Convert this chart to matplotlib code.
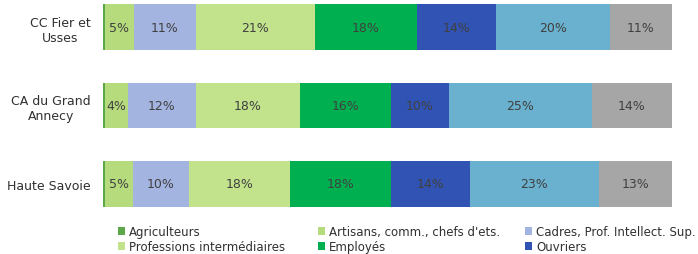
import matplotlib.pyplot as plt
import numpy as np

territoires = ["CC Fier et\nUsses", "CA du Grand\nAnnecy", "Haute Savoie"]
categories = ["Agriculteurs", "Artisans, comm., chefs d'ets.",
              "Cadres, Prof. Intellect. Sup.", "Professions intermédiaires",
              "Employés", "Ouvriers", "Retraités", "Autres"]
couleurs = ["#5aa84a", "#b5db7c", "#a3b4e0", "#c2e38c",
            "#00b050", "#3153b3", "#6ab1cf", "#a6a6a6"]

# parts en % (une liste par catégorie, dans l'ordre des territoires)
agriculteurs = [0.4, 0.3, 0.3]
artisans = [5, 4, 5]
cadres = [11, 12, 10]
prof_inter = [21, 18, 18]
employes = [18, 16, 18]
ouvriers = [14, 10, 14]
retraites = [20, 25, 23]
autres = [11, 14, 13]

data = np.array([agriculteurs, artisans, cadres, prof_inter,
                 employes, ouvriers, retraites, autres], dtype=float)
data = data / data.sum(axis=0) * 100  # barres ramenées à 100%
etiquettes = [None, artisans, cadres, prof_inter, employes, ouvriers, retraites, autres]

fig = plt.figure(figsize=(6.98, 2.55), dpi=100)
ax = fig.add_axes([103 / 698, 41 / 255, 569 / 698, 214 / 255])

y = np.arange(len(territoires))
left = np.zeros(len(territoires))
handles = []
for i, cat in enumerate(categories):
    b = ax.barh(y, data[i], left=left, height=0.58, color=couleurs[i], label=cat)
    handles.append(b)
    if etiquettes[i] is not None:
        for j in range(len(territoires)):
            ax.text(left[j] + data[i][j] / 2, y[j], f"{etiquettes[i][j]}%",
                    ha="center", va="center", fontsize=9, color="#404040")
    left += data[i]

ax.set_xlim(0, 100)
ax.set_ylim(2.37, -0.357)
ax.set_yticks(y)
ax.set_yticklabels(territoires, fontsize=9, color="#303030", multialignment="center")
ax.tick_params(axis="y", length=0, pad=9)
ax.set_xticks([])
for s in ax.spines.values():
    s.set_visible(False)

# légende sur 3 colonnes, remplie ligne par ligne
colonnes = [[0, 3, 6], [1, 4, 7], [2, 5]]
x_col = [116, 316, 523]
for xc, idx in zip(x_col, colonnes):
    leg = fig.legend([handles[k] for k in idx], [categories[k] for k in idx],
                     loc="upper left", bbox_to_anchor=(xc / 698, 31 / 255),
                     frameon=False, fontsize=8.5, handlelength=0.6, handleheight=0.6,
                     handletextpad=0.3, labelspacing=0.15,
                     borderaxespad=0, borderpad=0.2, labelcolor="#303030")

fig.savefig("out.png", dpi=100)
